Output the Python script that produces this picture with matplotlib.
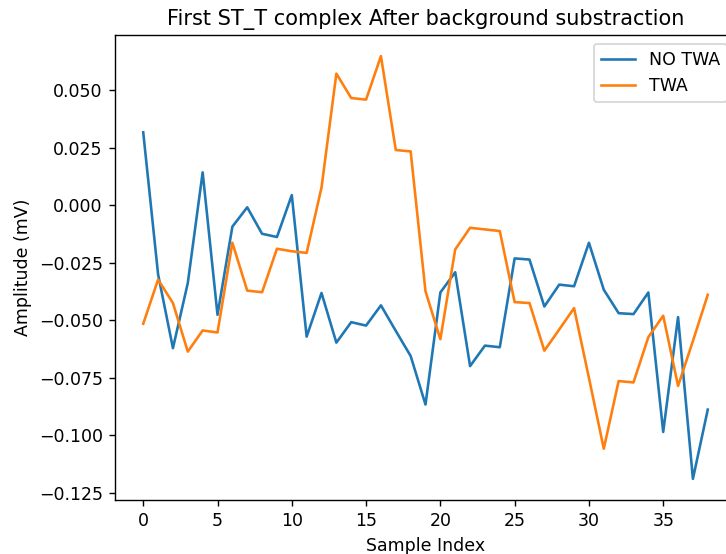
import matplotlib
matplotlib.use("Agg")
import matplotlib.pyplot as plt
import numpy as np

# first ST_T complex, amplitudes in mV
no_twa = [0.0317, -0.0300, -0.0621, -0.0338, 0.0143, -0.0476, -0.0093, -0.0009,
          -0.0124, -0.0138, 0.0044, -0.0571, -0.0381, -0.0597, -0.0508, -0.0523,
          -0.0435, -0.0546, -0.0655, -0.0866, -0.0379, -0.0291, -0.0699, -0.0610,
          -0.0617, -0.0231, -0.0236, -0.0440, -0.0345, -0.0352, -0.0163, -0.0367,
          -0.0469, -0.0473, -0.0379, -0.0985, -0.0486, -0.1189, -0.0888]
twa = [-0.0515, -0.0323, -0.0425, -0.0636, -0.0544, -0.0553, -0.0163, -0.0371,
       -0.0378, -0.0189, -0.0200, -0.0207, 0.0077, 0.0572, 0.0466, 0.0459,
       0.0648, 0.0240, 0.0234, -0.0374, -0.0582, -0.0192, -0.0098, -0.0105,
       -0.0112, -0.0421, -0.0425, -0.0632, -0.0540, -0.0447, -0.0750, -0.1058,
       -0.0764, -0.0770, -0.0573, -0.0480, -0.0785, -0.0590, -0.0389]

dpi = 125
fig = plt.figure(figsize=(726 / dpi, 554 / dpi), dpi=dpi)
# axes runs a little past the right edge of the canvas
ax = fig.add_axes([115 / 726, 54 / 554, 621 / 726, 465 / 554])

ax.plot(np.arange(len(no_twa)), no_twa, label="NO TWA")
ax.plot(np.arange(len(twa)), twa, label="TWA")
ax.set_title("First ST_T complex After background substraction")
ax.set_xlabel("Sample Index")
ax.set_ylabel("Amplitude (mV)")
ax.legend()

fig.savefig("out.png", dpi=dpi)
